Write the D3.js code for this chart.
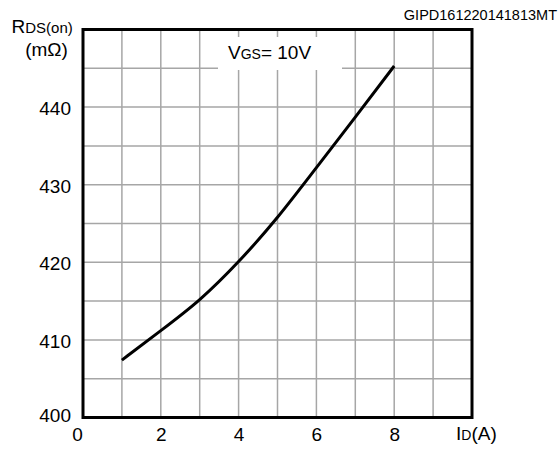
<!DOCTYPE html>
<html>
<head>
<meta charset="utf-8">
<script src="https://cdn.jsdelivr.net/npm/d3@7/dist/d3.min.js"></script>
<style>
  body { margin: 0; background: #fff; }
  text { font-family: Arial, "Liberation Sans", sans-serif; fill: #000; }
</style>
</head>
<body>
<svg id="chart" width="560" height="449"></svg>
<script>
// drain current vs on-resistance
const currentA = [1, 2, 3, 4, 5, 6, 7, 8];
const rdsOn = [407.4, 411.2, 415.2, 420.1, 425.8, 432.2, 438.7, 445.3];
const xTickLabels = [0, 2, 4, 6, 8];
const yTickLabels = [400, 410, 420, 430, 440];

const svg = d3.select("#chart");
const margin = {left: 83, top: 29.5, right: 88, bottom: 31.5};
const width = 560 - margin.left - margin.right,
      height = 449 - margin.top - margin.bottom;

const x = d3.scaleLinear().domain([0, 10]).range([0, width]);
const y = d3.scaleLinear().domain([400, 450]).range([height, 0]);

const g = svg.append("g").attr("transform", `translate(${margin.left},${margin.top})`);

// grid
g.selectAll("line.gx").data(x.ticks(10)).enter().append("line")
  .attr("x1", d => x(d)).attr("x2", d => x(d))
  .attr("y1", 0).attr("y2", height)
  .attr("stroke", "#a6a6a6").attr("stroke-width", 1.5);
g.selectAll("line.gy").data(y.ticks(10)).enter().append("line")
  .attr("x1", 0).attr("x2", width)
  .attr("y1", d => y(d)).attr("y2", d => y(d))
  .attr("stroke", "#a6a6a6").attr("stroke-width", 1.5);

// label box that hides the grid behind it
g.append("rect")
  .attr("x", 218 - margin.left).attr("y", 37 - margin.top)
  .attr("width", 124).attr("height", 33)
  .attr("fill", "#fff");
const vgs = g.append("text")
  .attr("x", 228 - margin.left).attr("y", 58.5 - margin.top)
  .style("font-size", "19px");
vgs.append("tspan").text("V");
vgs.append("tspan").style("font-size", "14px").text("GS");
vgs.append("tspan").text("= 10V");

// curve
const line = d3.line()
  .x((d, i) => x(currentA[i]))
  .y(d => y(d))
  .curve(d3.curveNatural);
g.append("path").datum(rdsOn)
  .attr("d", line)
  .attr("fill", "none")
  .attr("stroke", "#000")
  .attr("stroke-width", 3);

// frame
g.append("rect")
  .attr("x", 0).attr("y", 0)
  .attr("width", width).attr("height", height)
  .attr("fill", "none").attr("stroke", "#000").attr("stroke-width", 3);

// axes (labels only)
const xAxis = g.append("g")
  .attr("transform", `translate(0,${height})`)
  .call(d3.axisBottom(x).tickValues(xTickLabels).tickSize(0).tickPadding(10));
const yAxis = g.append("g")
  .call(d3.axisLeft(y).tickValues(yTickLabels).tickSize(0).tickPadding(12));
[xAxis, yAxis].forEach(a => {
  a.select(".domain").remove();
  a.selectAll("text").style("font-size", "19px").attr("font-family", null);
});
xAxis.selectAll("text").filter(d => d === 0).attr("dx", "-6px");
yAxis.selectAll("text").attr("dy", "0.4em");
yAxis.selectAll("text").filter(d => d === 400).attr("dy", "0.22em");

// axis titles
const yt = svg.append("text").attr("x", 11.5).attr("y", 32.5).style("font-size", "19px");
yt.append("tspan").text("R");
yt.append("tspan").style("font-size", "15px").text("DS(on)");
svg.append("text").attr("x", 46.5).attr("y", 56).attr("text-anchor", "middle")
  .style("font-size", "19px").text("(mΩ)");

const xt = svg.append("text").attr("x", 456).attr("y", 440).style("font-size", "19px");
xt.append("tspan").text("I");
xt.append("tspan").style("font-size", "14px").text("D");
xt.append("tspan").text("(A)");

svg.append("text").attr("x", 557).attr("y", 20).attr("text-anchor", "end")
  .style("font-size", "14.5px").text("GIPD161220141813MT");
</script>
</body>
</html>
